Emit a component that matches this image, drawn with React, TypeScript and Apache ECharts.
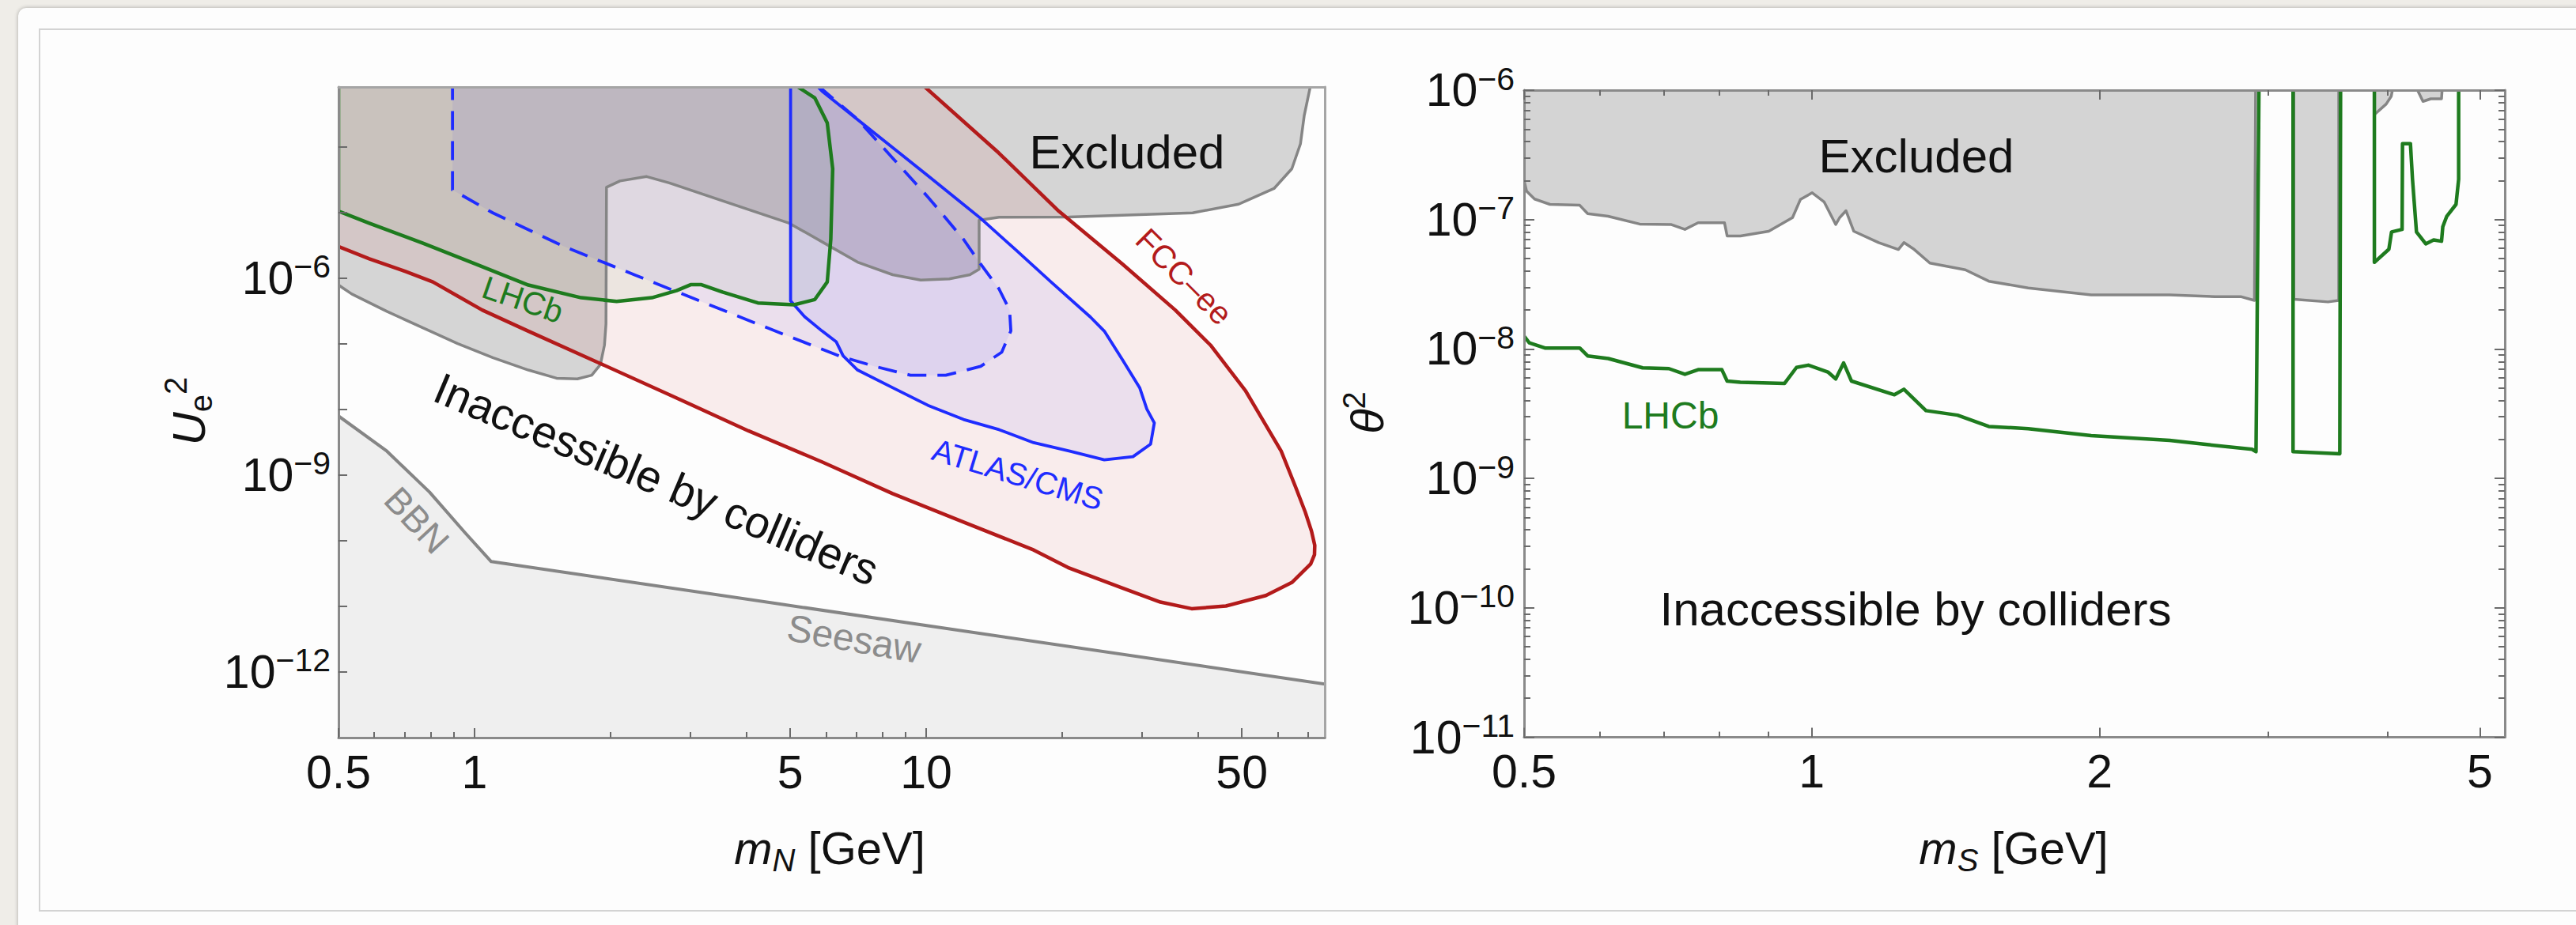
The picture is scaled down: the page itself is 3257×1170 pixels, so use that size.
import React, { useEffect, useRef } from "react";
import * as echarts from "echarts";

const FONT = "'Liberation Sans', Arial, Helvetica, sans-serif";

// ---------------- Left panel: m_N [GeV] vs U_e^2 ----------------
const leftXMajorTicks = [0.5, 1, 5, 10, 50];
const leftXMinorTicks = [0.6, 0.7, 0.8, 0.9, 2, 3, 4, 6, 7, 8, 9, 20, 30, 40, 60, 70];
const leftYTicks = [1e-12, 1e-11, 1e-10, 1e-9, 1e-8, 1e-7, 1e-6, 1e-5, 1e-4];
const leftYLabelTicks = [1e-12, 1e-9, 1e-6];
const leftXRange = [0.5, 76.3];
const leftYRange = [1e-13, 8.1e-4];

// lower boundary of the excluded region (grey)
const excludedLeftEdge = [
  [0.5, 7.8e-7], [0.535, 5.7e-7], [0.64, 3.1e-7], [0.767, 1.75e-7], [0.918, 1.0e-7],
  [1.098, 6.1e-8], [1.316, 3.96e-8], [1.52, 2.97e-8], [1.69, 2.9e-8], [1.818, 3.3e-8],
  [1.9, 4.8e-8], [1.94, 9.5e-8], [1.955, 2.0e-7], [1.96, 2.4e-5], [2.1, 3.0e-5],
  [2.405, 3.5e-5], [2.7, 2.8e-5], [4.98, 6.8e-6], [6.04, 3.2e-6], [7.05, 1.74e-6],
  [8.43, 1.12e-6], [9.73, 9.3e-7], [11.25, 9.7e-7], [12.5, 1.12e-6], [13.1, 1.36e-6],
  [13.1, 7.6e-6], [14.5, 8.4e-6], [20.7, 8.5e-6], [29.7, 9.2e-6], [38.9, 9.8e-6],
  [49.2, 1.33e-5], [58.9, 2.3e-5], [64.5, 4.6e-5], [67.4, 1.1e-4], [68.7, 2.95e-4],
  [71.3, 1e-3],
];

// FCC-ee sensitivity contour (red)
const fccEeContour = [
  [0.5, 3.0e-6], [0.585, 1.96e-6], [0.7, 1.27e-6], [0.809, 8.7e-7], [0.918, 5.3e-7],
  [1.04, 3.25e-7], [1.316, 1.55e-7], [1.885, 5.1e-8], [2.7, 1.67e-8], [4.04, 4.7e-9],
  [5.88, 1.58e-9], [8.43, 5.2e-10], [12.1, 1.92e-10], [17.3, 7.2e-11], [20.6, 3.9e-11],
  [27.0, 1.93e-11], [33.0, 1.16e-11], [38.7, 9.2e-12], [46.1, 1.01e-11], [56.5, 1.46e-11],
  [64.5, 2.3e-11], [71.0, 4.4e-11], [72.4, 6.1e-11], [72.5, 8.5e-11], [71.3, 1.4e-10],
  [69.1, 2.7e-10], [65.7, 6.65e-10], [61.1, 2.3e-9], [51.0, 1.89e-8], [42.6, 9.5e-8],
  [35.6, 3.25e-7], [27.2, 1.63e-6], [19.66, 1.04e-5], [14.47, 8.05e-5], [9.6, 1e-3],
];

// ATLAS/CMS sensitivity (solid blue)
const atlasCmsContour = [
  [5.01, 1e-3], [5.01, 4.5e-7], [5.38, 2.57e-7], [5.88, 1.56e-7], [6.32, 1.07e-7],
  [6.55, 6.5e-8], [7.05, 3.96e-8], [8.43, 2.13e-8], [10.09, 1.15e-8], [12.1, 7.0e-9],
  [14.5, 4.9e-9], [17.3, 3.1e-9], [20.8, 2.3e-9], [24.8, 1.7e-9], [28.7, 1.9e-9],
  [31.4, 2.95e-9], [32.0, 6.2e-9], [30.8, 1.01e-8], [29.7, 2.13e-8], [27.2, 5.7e-8],
  [24.8, 1.55e-7], [23.1, 2.54e-7], [18.9, 8.7e-7], [15.8, 2.67e-6], [13.2, 8.1e-6],
  [10.09, 3.6e-5], [7.7, 1.59e-4], [5.88, 7.0e-4], [5.6, 1e-3],
];

// ATLAS/CMS second contour (dashed blue)
const atlasCmsDashedContour = [
  [0.894, 1e-3], [0.894, 2.19e-5], [1.098, 9.8e-6], [1.576, 3.03e-6], [2.258, 1.12e-6],
  [3.236, 4.16e-7], [4.64, 1.55e-7], [6.42, 6.5e-8], [7.7, 4.5e-8], [9.23, 3.3e-8],
  [11.05, 3.3e-8], [13.2, 4.5e-8], [14.7, 7.4e-8], [15.4, 1.56e-7], [15.3, 3.25e-7],
  [14.5, 6.8e-7], [13.2, 1.63e-6], [12.1, 3.87e-6], [10.09, 1.71e-5], [8.43, 6.7e-5],
  [7.05, 2.6e-4], [5.88, 7.5e-4], [5.78, 1e-3],
];

// LHCb sensitivity (green)
const lhcbLeftContour = [
  [0.5, 1e-3], [0.5, 1.04e-5], [0.585, 6.8e-6], [0.767, 3.4e-6], [1.005, 1.63e-6],
  [1.316, 7.8e-7], [1.723, 5.0e-7], [2.064, 4.4e-7], [2.47, 5.0e-7], [2.8, 6.4e-7],
  [3.01, 7.9e-7], [3.18, 7.9e-7], [3.54, 6.1e-7], [4.24, 4.16e-7], [5.1, 3.9e-7],
  [5.67, 4.7e-7], [6.04, 8.7e-7], [6.15, 3.9e-6], [6.21, 4.6e-5], [6.04, 2.3e-4],
  [5.67, 5.5e-4], [5.19, 8.2e-4], [5.0, 1e-3],
];

// BBN + seesaw lower bound (grey)
const bbnSeesawEdge = [
  [0.5, 7.9e-9], [0.64, 2.3e-9], [0.795, 5.5e-10], [0.952, 1.33e-10], [1.089, 4.8e-11],
  [78, 6.4e-13],
];

// ---------------- Right panel: m_S [GeV] vs theta^2 ----------------
const rightXMajorTicks = [0.5, 1, 2, 5];
const rightXMinorTicks = [0.6, 0.7, 0.8, 0.9, 3, 4];
const rightYMajorTicks = [1e-11, 1e-10, 1e-9, 1e-8, 1e-7, 1e-6];
const rightYMinorMantissas = [2, 3, 4, 5, 6, 7, 8, 9];
const rightXRange = [0.5, 5.31];
const rightYRange = [1e-11, 1e-6];

const excludedRightA = [
  [0.5, 2.0e-7], [0.503, 1.66e-7], [0.5128, 1.44e-7], [0.5322, 1.31e-7], [0.5717, 1.29e-7],
  [0.5828, 1.11e-7], [0.6121, 1.06e-7], [0.6606, 9.23e-8], [0.7131, 9.14e-8], [0.7366, 8.39e-8],
  [0.7604, 9.44e-8], [0.8103, 9.44e-8], [0.8155, 7.47e-8], [0.8419, 7.47e-8], [0.9015, 8.12e-8],
  [0.9546, 1.035e-7], [0.973, 1.43e-7], [1.001, 1.61e-7], [1.03, 1.37e-7], [1.0594, 9.16e-8],
  [1.0695, 1.035e-7], [1.0859, 1.17e-7], [1.1065, 8.12e-8], [1.1747, 6.64e-8], [1.2319, 5.87e-8],
  [1.2485, 6.64e-8], [1.28, 5.87e-8], [1.3291, 4.61e-8], [1.4474, 4.09e-8], [1.5317, 3.34e-8],
  [1.6842, 2.96e-8], [1.9602, 2.62e-8], [2.3676, 2.62e-8], [2.64, 2.54e-8], [2.81, 2.54e-8],
  [2.905, 2.37e-8], [2.9135, 1.2e-6],
];
const excludedRightB = [[3.194, 1.2e-6], [3.194, 2.42e-8], [3.468, 2.31e-8], [3.559, 2.37e-8], [3.559, 1.2e-6]];
const excludedRightC = [[3.878, 1.2e-6], [3.878, 6.47e-7], [3.99, 7.8e-7], [4.039, 8.97e-7], [4.07, 1.2e-6]];
const excludedRightD = [[4.251, 1.2e-6], [4.36, 8.18e-7], [4.442, 8.57e-7], [4.559, 8.57e-7], [4.573, 1.2e-6]];

const lhcbRight1 = [
  [0.5, 1.256e-8], [0.5063, 1.117e-8], [0.5257, 1.017e-8], [0.5717, 1.017e-8], [0.5828, 8.84e-9],
  [0.6124, 8.44e-9], [0.6652, 7.15e-9], [0.7087, 7.05e-9], [0.7366, 6.37e-9], [0.7604, 6.92e-9],
  [0.8052, 6.92e-9], [0.8155, 5.65e-9], [0.8419, 5.53e-9], [0.9365, 5.42e-9], [0.9638, 7.2e-9],
  [0.9917, 7.5e-9], [1.0396, 6.64e-9], [1.0594, 5.87e-9], [1.0797, 7.8e-9], [1.1003, 5.65e-9],
  [1.2203, 4.43e-9], [1.2485, 4.88e-9], [1.3166, 3.34e-9], [1.4206, 3.08e-9], [1.5317, 2.52e-9],
  [1.6842, 2.42e-9], [1.9602, 2.14e-9], [2.3676, 1.97e-9], [2.6031, 1.82e-9], [2.888, 1.68e-9],
  [2.916, 1.61e-9], [2.922, 9.2e-9], [2.937, 1.2e-6],
];
const lhcbRight2 = [[3.188, 1.2e-6], [3.188, 1.61e-9], [3.568, 1.55e-9], [3.575, 1.2e-6]];
const lhcbRight3 = [
  [3.878, 1.2e-6], [3.878, 4.67e-8], [4.016, 5.9e-8], [4.042, 8.02e-8], [4.146, 8.39e-8],
  [4.15, 3.86e-7], [4.23, 3.86e-7], [4.251, 2.05e-7], [4.292, 8.02e-8], [4.389, 6.49e-8],
  [4.473, 6.96e-8], [4.559, 6.8e-8], [4.573, 8.8e-8], [4.617, 1.06e-7], [4.721, 1.31e-7],
  [4.751, 2.05e-7], [4.751, 1.2e-6],
];

// ---------------- helpers ----------------
const L = (v: number) => Math.log10(v);
const FRAME = "#8a8a8a";
const TICK = "#6a6a6a";
const RED = "#b31b1b";
const BLUE = "#1f2cff";
const GREEN = "#1e7b1e";
const GREY_LINE = "#858585";

const fmtMass = (v: number) => String(Math.round(Math.pow(10, v) * 10) / 10);
const fmtPow = (v: number) => `10{s|−${Math.round(-v)}}`;

type Pt = number[];

function fillSeries(pts: Pt[], xi: number, yi: number, fill: string) {
  return {
    type: "custom",
    xAxisIndex: xi,
    yAxisIndex: yi,
    clip: true,
    silent: true,
    data: [[L(pts[0][0]), L(pts[0][1])]],
    renderItem: (_p: any, api: any) => ({
      type: "polygon",
      shape: { points: pts.map((p) => api.coord([L(p[0]), L(p[1])])) },
      style: { fill, stroke: "none" },
    }),
  };
}

function lineSeries(pts: Pt[], xi: number, yi: number, stroke: string, lineWidth: number, lineDash?: number[]) {
  return {
    type: "custom",
    xAxisIndex: xi,
    yAxisIndex: yi,
    clip: true,
    silent: true,
    data: [[L(pts[0][0]), L(pts[0][1])]],
    renderItem: (_p: any, api: any) => ({
      type: "polyline",
      shape: { points: pts.map((p) => api.coord([L(p[0]), L(p[1])])) },
      style: { fill: "none", stroke, lineWidth, lineDash: lineDash || null, lineJoin: "round", lineCap: "butt" },
    }),
  };
}

const noSplit = { show: false };
const labelStyle = { fontSize: 59, color: "#111", fontFamily: FONT };
const supRich = { s: { fontSize: 41, lineHeight: 28, verticalAlign: "top", fontFamily: FONT, color: "#111" } };

function axis(gridIndex: number, range: number[], position: string, cfg: any) {
  return {
    gridIndex,
    type: "value",
    position,
    min: L(range[0]),
    max: L(range[1]),
    splitLine: noSplit,
    z: 10,
    axisLine: { show: false, onZero: false },
    axisTick: { show: false },
    axisLabel: { show: false },
    ...cfg,
  };
}
const line = { show: true, onZero: false, lineStyle: { color: FRAME, width: 3 } };
const ticks = (vals: number[], length: number) => ({
  show: true,
  inside: true,
  length,
  customValues: vals.map(L),
  lineStyle: { color: TICK, width: 2 },
});

const rightYMinorTicks: number[] = [];
rightYMajorTicks.slice(0, -1).forEach((d) => rightYMinorMantissas.forEach((m) => rightYMinorTicks.push(m * d)));

// ---------------- polygons ----------------
const TOP_L = 1e-3;
const BOT_L = 1e-14;
const LEFT_PAD = 0.45;
const TOP_R = 1.2e-6;

const excludedLeftPoly = [[LEFT_PAD, TOP_L], [LEFT_PAD, excludedLeftEdge[0][1]], ...excludedLeftEdge];
const fccPoly = [[LEFT_PAD, TOP_L], [LEFT_PAD, fccEeContour[0][1]], ...fccEeContour];
const bbnPoly = [
  [LEFT_PAD, bbnSeesawEdge[0][1]],
  ...bbnSeesawEdge,
  [bbnSeesawEdge[bbnSeesawEdge.length - 1][0], BOT_L],
  [LEFT_PAD, BOT_L],
];
const excludedRightAPoly = [[LEFT_PAD, TOP_R], [LEFT_PAD, excludedRightA[0][1]], ...excludedRightA];

const option: any = {
  animation: false,
  backgroundColor: "transparent",
  grid: [
    { left: 428, top: 110, width: 1247, height: 823 },
    { left: 1927, top: 114, width: 1240, height: 818.5 },
  ],
  xAxis: [
    axis(0, leftXRange, "bottom", {
      axisLine: line,
      axisTick: ticks(leftXMajorTicks, 12),
      axisLabel: { show: true, customValues: leftXMajorTicks.map(L), formatter: fmtMass, margin: 14, ...labelStyle },
    }),
    axis(0, leftXRange, "bottom", { axisTick: ticks(leftXMinorTicks, 7) }),
    axis(0, leftXRange, "top", { axisLine: { ...line, lineStyle: { color: "#a5a5a5", width: 3 } } }),
    axis(1, rightXRange, "bottom", {
      axisLine: line,
      axisTick: ticks(rightXMajorTicks, 12),
      axisLabel: { show: true, customValues: rightXMajorTicks.map(L), formatter: fmtMass, margin: 14, ...labelStyle },
    }),
    axis(1, rightXRange, "bottom", { axisTick: ticks(rightXMinorTicks, 7) }),
    axis(1, rightXRange, "top", { axisLine: line, axisTick: ticks(rightXMajorTicks, 12) }),
    axis(1, rightXRange, "top", { axisTick: ticks(rightXMinorTicks, 7) }),
  ],
  yAxis: [
    axis(0, leftYRange, "left", {
      axisLine: line,
      axisTick: ticks(leftYTicks, 11),
      axisLabel: {
        show: true,
        customValues: leftYLabelTicks.map(L),
        formatter: fmtPow,
        margin: 10,
        lineHeight: 70,
        rich: supRich,
        ...labelStyle,
      },
    }),
    axis(0, leftYRange, "right", { axisLine: { ...line, lineStyle: { color: "#a5a5a5", width: 3 } } }),
    axis(1, rightYRange, "left", {
      axisLine: line,
      axisTick: ticks(rightYMajorTicks, 13),
      axisLabel: {
        show: true,
        customValues: rightYMajorTicks.map(L),
        formatter: fmtPow,
        margin: 12,
        lineHeight: 70,
        rich: supRich,
        ...labelStyle,
      },
    }),
    axis(1, rightYRange, "left", { axisTick: ticks(rightYMinorTicks, 8) }),
    axis(1, rightYRange, "right", { axisLine: line, axisTick: ticks(rightYMajorTicks, 13) }),
    axis(1, rightYRange, "right", { axisTick: ticks(rightYMinorTicks, 8) }),
  ],
  series: [
    // left panel fills
    fillSeries(bbnPoly, 0, 0, "#efefef"),
    fillSeries(excludedLeftPoly, 0, 0, "#d5d5d5"),
    fillSeries(fccPoly, 0, 0, "rgba(200,30,30,0.075)"),
    fillSeries(atlasCmsContour, 0, 0, "rgba(50,50,255,0.065)"),
    fillSeries(atlasCmsDashedContour, 0, 0, "rgba(50,50,255,0.065)"),
    fillSeries(lhcbLeftContour, 0, 0, "rgba(30,125,30,0.06)"),
    // left panel lines
    lineSeries(bbnSeesawEdge, 0, 0, GREY_LINE, 4),
    lineSeries(excludedLeftEdge, 0, 0, GREY_LINE, 3.5),
    lineSeries(fccEeContour, 0, 0, RED, 4.5),
    lineSeries(atlasCmsContour, 0, 0, BLUE, 3.8),
    lineSeries(atlasCmsDashedContour, 0, 0, BLUE, 3.8, [24, 14]),
    lineSeries(lhcbLeftContour, 0, 0, GREEN, 4.5),
    // right panel
    fillSeries(excludedRightAPoly, 3, 2, "#d4d4d4"),
    fillSeries(excludedRightB, 3, 2, "#d4d4d4"),
    fillSeries(excludedRightC, 3, 2, "#d4d4d4"),
    fillSeries(excludedRightD, 3, 2, "#d4d4d4"),
    lineSeries(excludedRightA, 3, 2, GREY_LINE, 3.5),
    lineSeries(excludedRightB, 3, 2, GREY_LINE, 3.5),
    lineSeries(excludedRightC, 3, 2, GREY_LINE, 3.5),
    lineSeries(excludedRightD, 3, 2, GREY_LINE, 3.5),
    lineSeries(lhcbRight1, 3, 2, GREEN, 4.5),
    lineSeries(lhcbRight2, 3, 2, GREEN, 4.5),
    lineSeries(lhcbRight3, 3, 2, GREEN, 4.5),
  ],
};

function txt(x: number, y: number, text: string, fontSize: number, fill: string, rotDeg = 0, rich?: any, fontStyle = "normal") {
  return {
    type: "text",
    x,
    y,
    rotation: (rotDeg * Math.PI) / 180,
    silent: true,
    z: 20,
    style: {
      text,
      fill,
      fontSize,
      fontFamily: FONT,
      fontStyle,
      align: "center",
      verticalAlign: "middle",
      textAlign: "center",
      textVerticalAlign: "middle",
      rich,
    },
  };
}

const titleRich = {
  i: { fontSize: 58, fontStyle: "italic", fontFamily: FONT, fill: "#111", color: "#111", lineHeight: 72 },
  n: { fontSize: 40, fontStyle: "italic", fontFamily: FONT, fill: "#111", color: "#111", lineHeight: 46, verticalAlign: "bottom" },
  g: { fontSize: 58, fontFamily: FONT, fill: "#111", color: "#111", lineHeight: 72 },
  e: { fontSize: 40, fontFamily: FONT, fill: "#111", color: "#111", lineHeight: 52, verticalAlign: "bottom" },
  p: { fontSize: 40, fontFamily: FONT, fill: "#111", color: "#111", lineHeight: 10, verticalAlign: "top" },
};

option.graphic = [
  // left panel annotations
  txt(1425, 192, "Excluded", 60, "#111"),
  txt(830, 606, "Inaccessible by colliders", 56, "#111", -23),
  txt(661, 379, "LHCb", 41, GREEN, -19),
  txt(1287, 600, "ATLAS/CMS", 40, BLUE, -17),
  txt(1497, 350, "FCC–ee", 41, RED, -45),
  txt(527, 658, "BBN", 46, "#8c8c8c", -47),
  txt(1080, 808, "Seesaw", 48, "#8c8c8c", -10),
  // left axis titles
  txt(1049, 1072, "{i|m}{n|N}{g| [GeV]}", 58, "#111", 0, titleRich),
  txt(238, 520, "{i|U}{e|e}{p|2}", 58, "#111", 90, titleRich),
  // right panel annotations
  txt(2423, 197, "Excluded", 60, "#111"),
  txt(2112, 525, "LHCb", 48, GREEN),
  txt(2422, 770, "Inaccessible by colliders", 60, "#111"),
  // right axis titles
  txt(2546, 1072, "{i|m}{n|S}{g| [GeV]}", 58, "#111", 0, titleRich),
  txt(1728, 522, "{i|θ}{p|2}", 58, "#111", 90, titleRich),
];

export default function App() {
  const ref = useRef<HTMLDivElement>(null);
  useEffect(() => {
    document.body.style.margin = "0";
    const chart = echarts.init(ref.current!, null, { renderer: "svg", width: 3257, height: 1170 });
    chart.setOption(option);
    return () => chart.dispose();
  }, []);
  return (
    <div style={{ position: "fixed", left: 0, top: 0, width: 3257, height: 1170, overflow: "hidden", background: "#efede8" }}>
      <div
        style={{
          position: "absolute",
          left: 23,
          top: 10,
          width: 3400,
          height: 1300,
          background: "#fdfdfd",
          borderRadius: 10,
          boxShadow: "0 0 5px rgba(0,0,0,0.3)",
        }}
      />
      <div
        style={{
          position: "absolute",
          left: 49,
          top: 36,
          width: 3400,
          height: 1117,
          boxSizing: "border-box",
          border: "2px solid #d3d3d3",
        }}
      />
      <div ref={ref} style={{ position: "absolute", left: 0, top: 0, width: 3257, height: 1170 }} />
    </div>
  );
}
